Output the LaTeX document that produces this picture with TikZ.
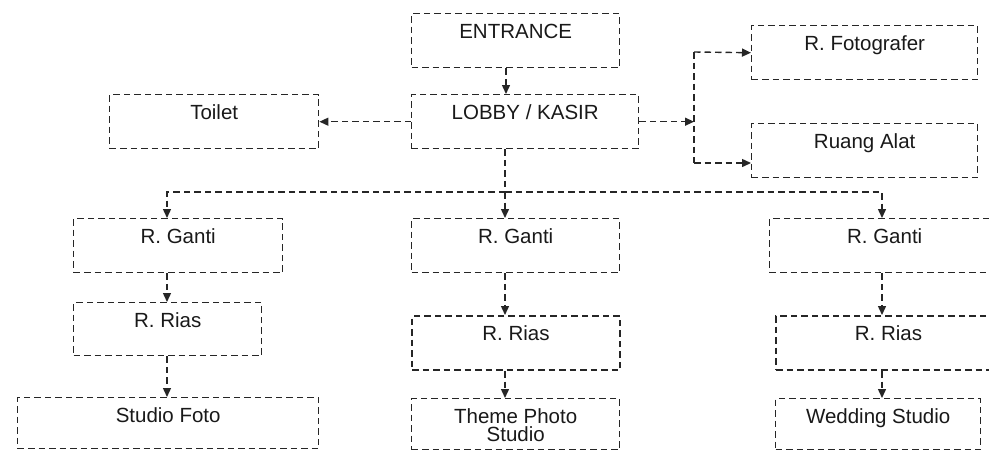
\documentclass[tikz,border=0pt]{standalone}
\usepackage{fontspec}
\setmainfont{Liberation Sans}
\usetikzlibrary{positioning,arrows.meta}

\begin{document}
\begin{tikzpicture}[
      x=1pt, y=-1pt
      ,every node/.append style={font=\fontsize{20.5}{18.5}\selectfont, text=black!90}
      ,room/.style={draw=black!85, dash pattern=on 6.5pt off 4pt, line width=1.4pt,
        anchor=north west, inner xsep=0pt, inner ysep=9.5pt,
        text height=15pt, text depth=20pt, minimum width=#1}
      ,low/.style={text depth=17pt}
      ,bold/.style={line width=2pt}
      ,link/.style={draw=black!85, dash pattern=on 6.5pt off 4pt, line width=1.4pt}
      ,go/.style={link, -{Triangle[length=9pt,width=8pt]}}
    ]
    \clip (0,0) rectangle (989,456);

    % top part
    \node [room=208] (entrance) at (411,13) {ENTRANCE};
    \node [room=227] (lobby) at (411,94) {LOBBY / KASIR};
    \node [room=209] (toilet) at (109,94) {Toilet};
    \node [room=226] (foto) at (751,25) {R. Fotografer};
    \node [room=226] (alat) at (751,123) {Ruang Alat};

    % three studio columns
    \node [room=209] (ganti1) at (73,218) {R. Ganti};
    \node [room=208] (ganti2) at (411,218) {R. Ganti};
    \node [room=230] (ganti3) at (769,218) {R. Ganti};
    \node [room=188, text depth=19pt] (rias1) at (73,302) {R. Rias};
    \node [room=208, bold] (rias2) at (411,315) {R. Rias};
    \node [room=225, bold] (rias3) at (775,315) {R. Rias};
    \node [room=301, low] (studio1) at (17,397) {Studio Foto};
    \node [room=208, low] (studio2) at (411,398) {\parbox[t]{200pt}{\centering Theme Photo\\Studio}};
    \node [room=205, low] (studio3) at (775,398) {Wedding Studio};

    \coordinate (axis) at (506,80);
    \coordinate (mid) at (505,192);
    \coordinate (west) at (167,192);
    \coordinate (east) at (882,192);
    \coordinate (forkup) at (694,52);
    \coordinate (forkdn) at (694,163);

    \draw [go] (entrance.south -| axis) -- (lobby.north -| axis);
    \draw [go] (lobby.west) -- (toilet.east);
    \draw [go] (lobby.east) -- (lobby.east -| forkup);
    \draw [link] (forkup) -- (forkdn);
    \draw [go] (forkup) -- (foto.west);
    \draw [go] (forkdn) -- (alat.west |- forkdn);

    \draw [link] (lobby.south -| mid) -- (mid);
    \draw [go] (mid) -- (ganti2.north -| mid);
    \draw [go] (mid) -- (west) -- (ganti1.north -| west);
    \draw [go] (mid) -- (east) -- (ganti3.north -| east);

    \draw [go] (ganti1.south -| west) -- (rias1.north -| west);
    \draw [go] (rias1.south -| west) -- (studio1.north -| west);
    \draw [go] (ganti2.south -| mid) -- (rias2.north -| mid);
    \draw [go] (rias2.south -| mid) -- (studio2.north -| mid);
    \draw [go] (ganti3.south -| east) -- (rias3.north -| east);
    \draw [go] (rias3.south -| east) -- (studio3.north -| east);
\end{tikzpicture}
\end{document}
